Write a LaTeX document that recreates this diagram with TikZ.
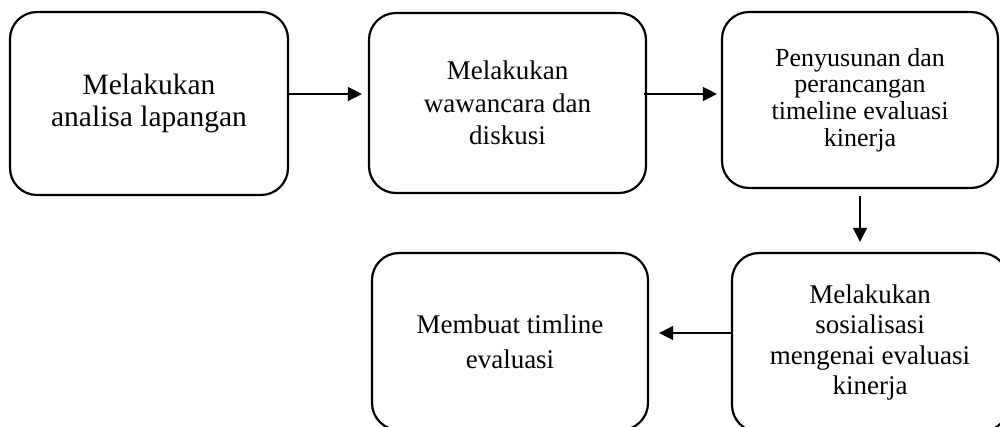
\documentclass[tikz,border=0pt]{standalone}
\usepackage{fontspec}
\setmainfont{Liberation Serif}
\usetikzlibrary{arrows.meta}
\tikzset{
  box/.style={draw, line width=2.2pt, rounded corners=27pt, inner sep=0pt, align=center},
  arr/.style={line width=1.4pt, -{Triangle[length=14pt,width=14pt]}},
}
\begin{document}
\begin{tikzpicture}[x=1pt,y=-1pt]
\useasboundingbox (0,0) rectangle (1000,426);
\clip (0,0) rectangle (1000,426);
\node[box, minimum width=278pt, minimum height=183pt, font=\fontsize{29.5}{32}\selectfont] (b1) at (149,103.5) {Melakukan\\analisa lapangan};
\node[box, minimum width=277pt, minimum height=180pt, font=\fontsize{27}{32.5}\selectfont] (b2) at (507.5,103) {Melakukan\\wawancara dan\\diskusi};
\node[box, minimum width=276pt, minimum height=176pt, font=\fontsize{26}{26.7}\selectfont] (b3) at (860,100) {Penyusunan dan\\perancangan\\timeline evaluasi\\kinerja};
\node[box, minimum width=276pt, minimum height=179pt, font=\fontsize{27}{30.5}\selectfont] (b4) at (870,342.5) {\raisebox{5pt}{\parbox{270pt}{\centering Melakukan\\sosialisasi\\mengenai evaluasi\\kinerja}}};
\node[box, minimum width=276pt, minimum height=177pt, font=\fontsize{27}{35}\selectfont] (b5) at (510,341.5) {Membuat timline\\evaluasi};
\draw[arr, shorten >=6pt] ([yshift=9.5pt]b1.east) -- ([yshift=9pt]b2.west);
\draw[arr, shorten <=-3pt, shorten >=4pt] ([yshift=9pt]b2.east) -- ([yshift=6pt]b3.west);
\draw[arr, shorten <=7pt, shorten >=10pt] (b3.south) -- (b3.south |- b4.north);
\draw[arr, shorten >=10pt] ([yshift=9.5pt]b4.west) -- ([yshift=9.5pt]b4.west -| b5.east);
\end{tikzpicture}
\end{document}
